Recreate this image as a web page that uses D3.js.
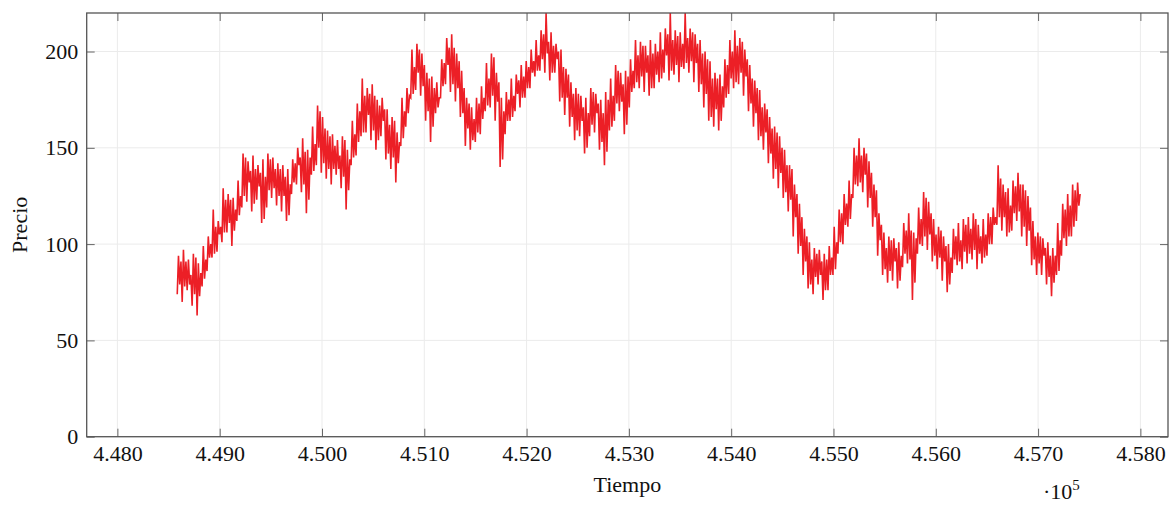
<!DOCTYPE html>
<html><head><meta charset="utf-8">
<script src="https://cdn.jsdelivr.net/npm/d3@7"></script>
<style>
body{margin:0;background:#fff}
svg{display:block}
text{font-family:"Liberation Serif","DejaVu Serif",serif;fill:#111}
</style>
</head><body>
<svg id="chart" width="1176" height="505"></svg>
<script>
// ---- data ----
const xTickValues = [448000,449000,450000,451000,452000,453000,454000,455000,456000,457000,458000];
const yTickValues = [0,50,100,150,200];
const xLabel = "Tiempo";
const yLabel = "Precio";
const timeStart = 448585;   // first sample time
const timeStep = 12.14;     // sampling interval
const precio = [
74,94,79,91, 70,97,78,91, 76,92,79,84, 68,95,74,93, 63,90,73,85,
78,99,82,92, 86,104,93,100, 93,118,95,109, 96,112,105,109, 101,129,106,123,
106,126,111,123, 99,124,107,118, 112,133,115,125, 119,147,125,145, 122,143,132,138,
117,146,121,139, 123,141,130,137, 111,144,113,135, 119,147,128,144, 124,145,129,139,
120,142,125,139, 117,141,125,135, 112,139,115,131, 126,144,132,142, 131,150,141,145,
127,155,131,148, 116,149,123,145, 136,161,138,152, 141,172,150,169, 137,166,142,160,
134,159,139,156, 131,157,139,151, 136,154,139,146, 129,156,135,154, 118,149,128,144,
141,164,145,157, 146,173,153,169, 156,186,158,177, 158,181,167,178, 154,183,159,177,
149,175,154,172, 156,176,164,170, 144,170,147,162, 139,166,145,164, 132,158,142,153,
151,176,155,169, 161,181,168,177, 176,201,178,192, 180,204,189,201, 177,199,182,193,
164,189,169,186, 153,187,161,181, 168,184,171,176, 176,196,182,194, 183,207,193,202,
179,209,183,202, 174,199,181,195, 166,190,168,181, 151,176,160,173, 149,171,154,165,
153,176,158,173, 157,182,165,176, 169,194,172,186, 171,199,177,197, 164,189,174,184,
140,176,144,169, 157,179,164,175, 164,186,166,177, 169,188,178,185, 171,193,176,187,
176,195,181,192, 181,201,189,195, 187,206,190,198, 190,211,196,209, 189,220,199,205,
185,210,189,203, 189,204,196,200, 174,201,176,192, 167,191,176,188, 161,184,166,178,
154,181,159,178, 156,177,164,171, 147,176,150,168, 156,181,162,179, 158,178,168,173,
149,175,153,168, 141,179,148,175, 159,186,161,177, 164,193,173,190, 169,189,174,183,
157,190,162,187, 171,196,179,190, 181,206,184,198, 181,205,187,203, 179,203,189,198,
177,206,181,199, 181,204,188,200, 184,210,186,201, 189,212,198,209, 185,220,190,206,
188,211,193,208, 184,210,192,204, 191,220,194,207, 189,212,195,210, 184,209,194,204,
179,206,183,199, 171,200,178,196, 164,195,166,186, 161,189,170,186, 159,188,164,182,
171,196,176,193, 178,206,186,200, 181,211,184,203, 183,207,189,205, 177,201,187,196,
169,193,173,186, 161,185,168,181, 154,180,156,171, 149,173,158,170, 142,166,147,160,
134,161,139,158, 129,156,137,150, 124,149,127,141, 117,141,123,139, 104,131,114,126,
95,121,99,114, 84,108,91,104, 77,101,79,92, 74,98,83,95, 79,97,84,91,
71,95,76,92, 76,99,84,93, 84,109,87,101, 95,118,101,116, 100,126,110,121,
109,133,113,126, 124,150,131,146, 130,155,132,146, 127,150,136,147, 119,143,124,137,
109,131,114,128, 94,116,102,110, 84,106,87,98, 80,104,86,102, 81,103,91,98,
77,101,81,94, 88,111,95,107, 90,116,92,107, 71,106,80,103, 95,119,100,113,
99,127,104,124, 97,122,105,116, 91,113,94,105, 87,109,93,107, 81,104,91,99,
75,100,79,93, 85,108,92,104, 89,111,91,102, 87,113,96,110, 90,114,95,108,
92,116,97,113, 87,110,95,104, 90,113,93,105, 94,116,100,114, 100,119,110,114,
110,141,114,134, 107,131,114,127, 104,129,106,120, 107,133,116,130, 112,137,117,131,
104,131,109,128, 99,125,107,119, 89,112,92,104, 84,106,90,104, 84,103,94,98,
79,101,83,94, 73,98,80,94, 84,111,86,102, 94,121,103,118, 99,126,104,120,
104,131,109,128, 112,132,120,126
];
const series = precio.map((v,i)=>({t: timeStart + i*timeStep, v}));

// ---- layout ----
const svg = d3.select("#chart");
const L = 86.7, R = 1168, T = 13, B = 436.7;
const x = d3.scaleLinear().domain([447700, 458270]).range([L, R]);
const y = d3.scaleLinear().domain([0, 220]).range([B, T]);

svg.append("defs").append("clipPath").attr("id","clip")
  .append("rect").attr("x",L).attr("y",T).attr("width",R-L).attr("height",B-T);

// grid
const grid = svg.append("g").attr("stroke","#ebebeb").attr("stroke-width",1);
grid.selectAll(".gx").data(xTickValues).join("line")
  .attr("x1",d=>x(d)).attr("x2",d=>x(d)).attr("y1",T).attr("y2",B);
grid.selectAll(".gy").data(yTickValues).join("line")
  .attr("y1",d=>y(d)).attr("y2",d=>y(d)).attr("x1",L).attr("x2",R);

// line
svg.append("path").datum(series)
  .attr("clip-path","url(#clip)")
  .attr("fill","none").attr("stroke","#ec1f26").attr("stroke-width",1.6)
  .attr("stroke-linejoin","miter")
  .attr("d", d3.line().x(d=>x(d.t)).y(d=>y(d.v)));

// axes
const fmt = d => (d/1e5).toFixed(3);
function style(g){
  g.select(".domain").remove();
  g.selectAll(".tick line").attr("stroke","#666").attr("stroke-width",1);
  g.selectAll("text").attr("font-size",22).attr("fill","#111")
   .attr("font-family",'"Liberation Serif","DejaVu Serif",serif');
}
svg.append("g").attr("transform",`translate(0,${B})`)
  .call(d3.axisBottom(x).tickValues(xTickValues).tickFormat(fmt).tickSizeInner(-8).tickSizeOuter(0).tickPadding(8.7))
  .call(style);
svg.append("g").attr("transform",`translate(0,${T})`)
  .call(d3.axisTop(x).tickValues(xTickValues).tickFormat("").tickSizeInner(-8).tickSizeOuter(0))
  .call(style);
svg.append("g").attr("transform",`translate(${L},0)`)
  .call(d3.axisLeft(y).tickValues(yTickValues).tickFormat(d3.format("d")).tickSizeInner(-8).tickSizeOuter(0).tickPadding(8.4))
  .call(style);
svg.append("g").attr("transform",`translate(${R},0)`)
  .call(d3.axisRight(y).tickValues(yTickValues).tickFormat("").tickSizeInner(-8).tickSizeOuter(0))
  .call(style);

// frame
svg.append("rect").attr("x",L).attr("y",T).attr("width",R-L).attr("height",B-T)
  .attr("fill","none").attr("stroke","#555").attr("stroke-width",1.3);

// labels
svg.append("text").attr("x",(L+R)/2).attr("y",492).attr("text-anchor","middle")
  .attr("font-size",22).text(xLabel);
svg.append("text").attr("transform",`translate(27,${(T+B)/2}) rotate(-90)`)
  .attr("text-anchor","middle").attr("font-size",22).text(yLabel);
const sc = svg.append("text").attr("x",1043).attr("y",499).attr("font-size",22);
sc.append("tspan").text("\u00b710");
sc.append("tspan").attr("dy",-9).attr("font-size",15).text("5");
</script>
</body></html>
